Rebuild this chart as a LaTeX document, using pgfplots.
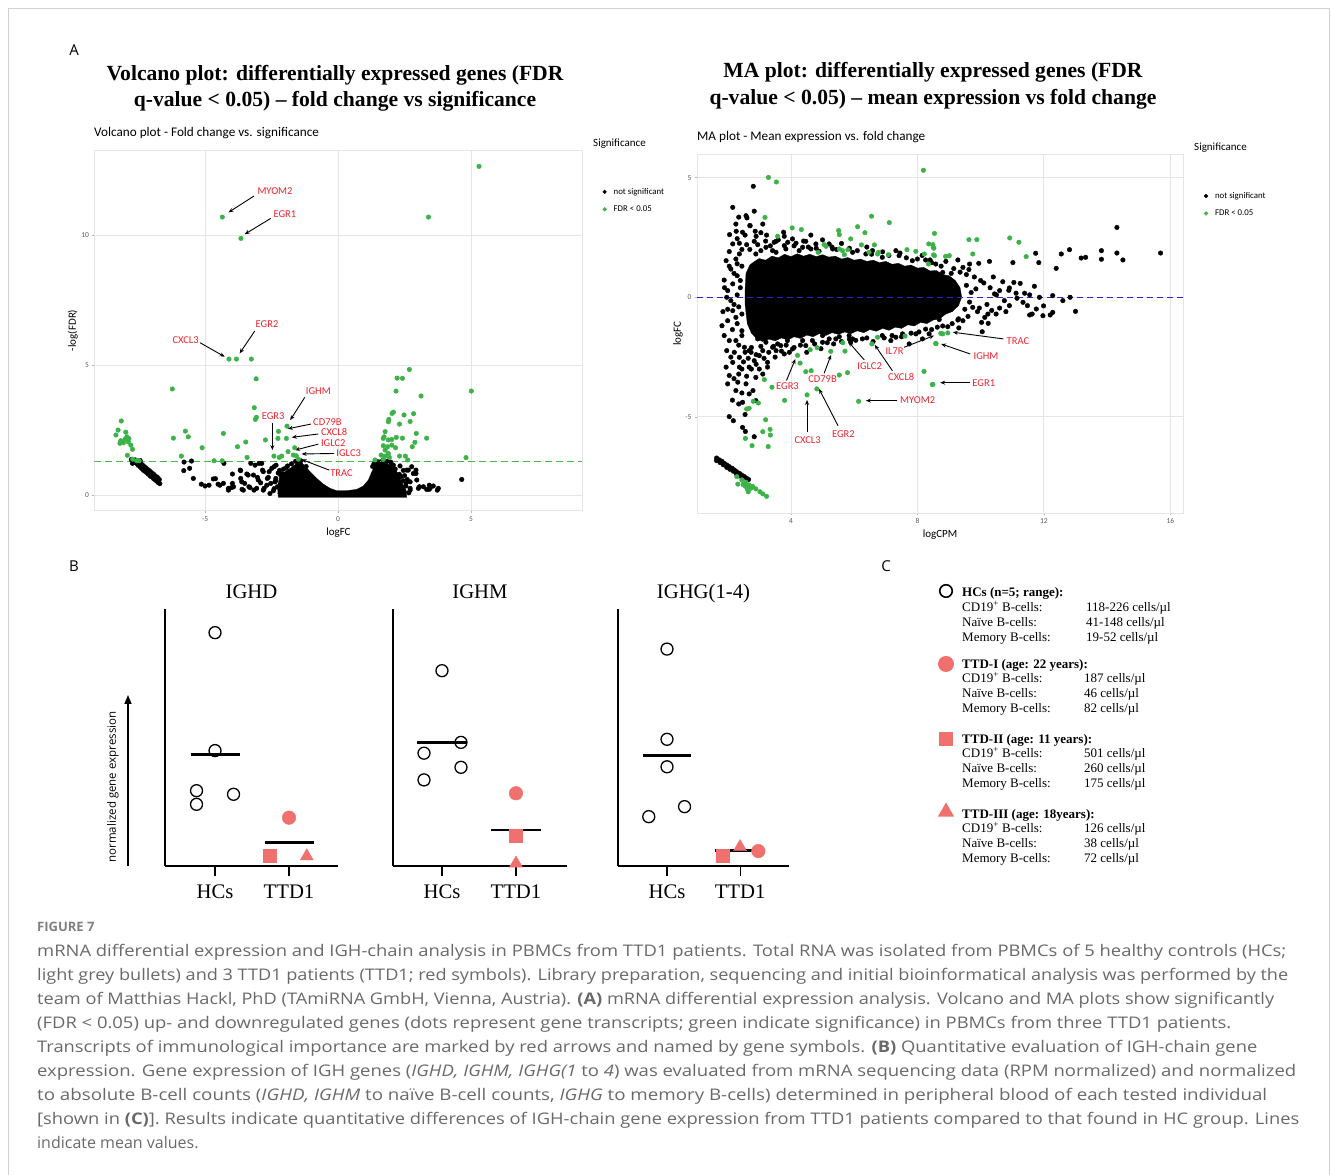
\documentclass[border=0pt]{standalone}
\usepackage{pgfplots}
\pgfplotsset{compat=1.18}
\usepackage{fontspec}
\usepackage{graphicx}
\usetikzlibrary{arrows.meta,shapes.geometric}
\setmainfont{Liberation Serif}
\newfontfamily\ggf{Carlito}
\newfontfamily\osf{Open Sans}
\definecolor{sig}{RGB}{60,178,72}
\definecolor{sigline}{RGB}{70,185,70}
\definecolor{lab}{RGB}{235,35,45}
\definecolor{ttd}{RGB}{240,112,110}
\definecolor{gridc}{RGB}{229,229,229}
\definecolor{capg}{RGB}{105,105,105}
\definecolor{navyd}{RGB}{40,40,200}
\newcommand{\fsz}[2]{\fontsize{#1}{#2}\selectfont}
\pgfplotsset{
  gg/.style={scale only axis, anchor=south west,
    axis line style={draw=gridc, line width=0.8pt},
    xmajorgrids, ymajorgrids,
    major grid style={draw=gridc, line width=0.8pt},
    tick style={draw=gray!60, line width=0.5pt},
    major tick length=2pt, tick align=outside,
    xtick pos=left, ytick pos=left,
    tick label style={font=\ggf\fsz{7.5}{8}, text=black!65},
    label style={font=\ggf\fsz{11}{12}},
    legend style={draw=none, fill=none, font=\ggf\fsz{8.8}{9}, row sep=6pt, anchor=west},
    legend cell align=left,
    legend image code/.code={\draw[##1, mark size=1.9pt] plot coordinates {(0pt,0pt)}; \path[draw=none, fill=none] (0pt,0pt) -- (7pt,0pt);},
  },
  pts/.style={only marks, mark=*, mark size=2.3pt},
  bax/.style={scale only axis, anchor=south west, height=257pt, ymin=0, ymax=100,
    axis x line*=bottom, axis y line*=left, axis line style={-, line width=1.1pt, black},
    xtick={1,2}, xticklabels={HCs,TTD1}, ytick=\empty,
    tick style={black, line width=1.1pt}, major tick length=10pt, tick align=outside,
    xticklabel style={font=\fsz{20.7}{23}, yshift=-5pt},
    clip=false,
    title style={font=\fsz{20.7}{23}, at={(axis description cs:0.5,1)}, anchor=base, yshift=4pt},
  },
  hc/.style={only marks, mark=o, mark size=6pt, line width=1.3pt, black},
  tc/.style={only marks, mark=*, mark size=6.8pt, draw=ttd, fill=ttd},
  ts/.style={only marks, mark=square*, mark size=6.3pt, draw=ttd, fill=ttd},
  tt/.style={only marks, mark=triangle*, mark size=7.5pt, draw=ttd, fill=ttd},
  mline/.style={black, line width=2.8pt},
}
\tikzset{lbl/.style={text=lab, font=\ggf\fsz{10.5}{12}, inner sep=1pt},
  arr/.style={-{Stealth[length=5pt,width=4pt]}, line width=0.9pt, black}}
\newcommand{\crow}[4]{\node[anchor=base west, inner sep=0] at (962pt,#1pt) {#2};
  \node[anchor=base west, inner sep=0] at (#3pt,#1pt) {#4};}
\begin{document}
\begin{tikzpicture}
\path[use as bounding box] (0pt,0pt) rectangle (1331pt,1175pt);
\draw[black!18, line width=0.8pt] (8pt,0pt) -- (8pt,1167pt) -- (1329pt,1167pt) -- (1329pt,0pt);

% ---------- panel labels and titles
\node[anchor=base, inner sep=0, font=\osf\fsz{15}{18}] at (74pt,1119.5pt) {A};
\node[anchor=base, inner sep=0, font=\osf\fsz{15}{18}] at (74pt,603.5pt) {B};
\node[anchor=base, inner sep=0, font=\osf\fsz{15}{18}] at (886pt,603.5pt) {C};
\node[anchor=base, inner sep=0, font=\bfseries\fsz{21.6}{26}] at (335pt,1094pt) {Volcano plot: differentially expressed genes (FDR};
\node[anchor=base, inner sep=0, font=\bfseries\fsz{21.6}{26}] at (335pt,1068pt) {q-value < 0.05) -- fold change vs significance};
\node[anchor=base, inner sep=0, font=\bfseries\fsz{21.6}{26}] at (933pt,1097pt) {MA plot: differentially expressed genes (FDR};
\node[anchor=base, inner sep=0, font=\bfseries\fsz{21.6}{26}] at (933pt,1070pt) {q-value < 0.05) -- mean expression vs fold change};
\node[anchor=base west, inner sep=0, font=\ggf\fsz{13.2}{15}] at (94pt,1038pt) {Volcano plot - Fold change vs. significance};
\node[anchor=base west, inner sep=0, font=\ggf\fsz{13.2}{15}] at (697pt,1034pt) {MA plot - Mean expression vs. fold change};
\node[anchor=base west, inner sep=0, font=\ggf\fsz{11}{12}] at (593pt,1028pt) {Significance};
\node[anchor=base west, inner sep=0, font=\ggf\fsz{11}{12}] at (1194pt,1024pt) {Significance};

% ---------- volcano plot
\begin{axis}[gg, at={(94.4pt,664.3pt)}, width=488.1pt, height=360.7pt,
  xmin=-9.16, xmax=9.19, ymin=-0.6, ymax=13.27,
  xtick={-5,0,5}, xticklabels={-5,0,5}, ytick={0,5,10}, yticklabels={0,5,10},
  xlabel={logFC}, ylabel={-log(FDR)},
  xlabel style={at={(axis description cs:0.5,-0.062)}, anchor=center},
  ylabel style={at={(axis description cs:-0.044,0.5)}, anchor=center},
  legend style={at={(axis description cs:1.035,0.86)}}]
\addplot[black, fill=black, line width=0.3pt, forget plot] coordinates {
(-2.24,-0.09) (-2.28,0.32) (-2.18,0.77) (-1.99,0.90) (-1.80,1.03) (-1.64,1.15) (-1.52,1.28) (-1.39,1.28)
(-1.28,1.15) (-1.05,0.90) (-0.80,0.64) (-0.55,0.42) (-0.30,0.26) (-0.05,0.17) (0.33,0.17) (0.70,0.22)
(0.95,0.35) (1.14,0.58) (1.27,0.90) (1.39,1.15) (1.52,1.35) (1.64,1.37) (1.83,1.22) (2.02,1.09)
(2.21,0.90) (2.33,0.64) (2.46,0.38) (2.58,0.13) (2.58,-0.09) (-2.24,-0.09)};
\addplot[pts, black] table {
x y
-7.77 1.37
-7.69 1.32
-7.64 1.26
-7.57 1.22
-7.52 1.15
-7.44 1.09
-7.39 1.03
-7.32 0.96
-7.27 0.92
-7.19 0.86
-7.14 0.81
-7.07 0.74
-7.02 0.71
-6.94 0.64
-6.89 0.60
-6.82 0.54
-6.77 0.49
-6.70 0.44
-7.62 1.35
-7.54 1.31
-7.47 1.24
-7.39 1.19
-7.32 1.13
-7.24 1.06
-7.17 1.00
-7.09 0.94
-7.02 0.87
-6.94 0.81
-6.87 0.74
-6.79 0.68
-6.72 0.60
-7.44 1.33
-7.73 1.22
-5.79 1.27
-5.51 1.31
-5.80 0.94
-5.58 1.03
-5.44 0.64
-5.14 0.42
-4.85 0.38
-4.51 0.42
-4.61 0.63
-4.29 1.22
-4.31 0.45
-4.12 0.19
-4.00 0.29
-3.97 0.45
-3.97 0.81
-3.66 0.94
-3.66 0.64
-3.51 0.45
-3.28 1.22
-3.61 0.22
-3.38 0.77
-3.18 0.77
-3.03 0.68
-2.97 1.22
-2.91 0.47
-2.84 0.96
-2.78 0.26
-2.66 0.64
-2.59 0.90
-2.53 0.45
-2.41 1.09
-2.34 0.64
-2.28 0.32
-2.16 0.77
-2.09 0.45
-3.16 0.19
-3.35 0.32
-4.69 0.62
-5.00 0.35
-4.44 0.38
-3.93 0.32
-3.68 0.96
-3.62 0.51
-3.43 0.81
-3.31 0.29
-3.12 1.15
-3.00 0.58
-2.87 1.22
-2.81 0.90
-2.68 0.38
-2.62 0.68
-2.49 1.03
-2.43 0.17
-2.37 0.51
-2.33 1.15
-2.18 0.06
-2.56 0.06
-2.81 0.19
-3.06 0.26
-3.56 0.19
-4.12 0.26
-2.25 0.85
-2.05 1.00
-1.90 1.12
-1.75 1.20
-1.60 1.30
-1.40 1.32
-1.20 1.10
-2.35 0.55
-2.40 0.25
-2.20 0.95
-2.10 0.82
-1.95 1.05
1.30 1.10
1.35 1.20
1.45 1.30
1.70 1.35
1.85 1.30
2.00 1.20
2.15 1.00
2.30 0.80
2.45 0.55
2.50 0.75
2.45 0.95
2.55 0.35
2.60 0.60
2.58 0.96
2.93 0.96
2.93 0.83
2.77 1.09
2.56 0.47
2.71 0.26
2.66 0.09
3.06 0.32
3.33 0.22
3.43 0.38
3.58 0.35
3.73 0.19
3.42 0.22
4.65 0.60
2.36 0.71
2.46 0.17
2.21 0.17
2.06 0.58
1.98 1.27
2.08 1.15
2.33 1.12
2.64 0.96
2.83 0.83
2.96 0.58
3.02 0.26
3.21 0.32
3.46 0.26
3.77 0.26
2.71 0.51
2.71 0.19
};
\addlegendentry{not significant}
\addplot[pts, sig] table {
x y
-4.35 10.69
-3.65 9.87
-4.10 5.23
-3.82 5.23
-3.26 5.23
-3.08 4.47
-6.23 4.08
-3.15 3.36
-3.07 2.99
-3.11 2.91
-1.92 2.65
-2.24 2.45
-2.26 2.18
-1.94 2.18
-2.73 2.12
-3.47 2.04
-3.78 1.86
-4.31 2.37
-5.74 2.46
-5.63 2.24
-6.19 2.19
-5.11 1.82
-1.63 1.82
-1.88 1.67
-2.41 1.50
-2.21 1.45
-2.12 1.50
-1.68 1.54
-1.57 1.51
-1.49 1.38
-3.42 1.45
-5.89 1.50
-4.66 1.32
-4.36 1.32
-8.15 2.85
-8.27 2.50
-8.35 2.31
-7.98 2.42
-7.94 2.24
-8.17 2.09
-8.07 2.01
-7.89 2.05
-7.79 1.92
-7.73 1.76
-7.92 1.53
-7.72 1.38
-8.01 2.15
-7.86 2.17
-8.20 1.99
-7.57 1.32
-7.48 1.32
5.30 12.64
3.40 10.69
2.68 4.83
2.22 4.50
2.42 4.49
2.18 4.00
3.12 3.81
5.01 4.00
2.08 3.19
2.03 3.14
2.48 3.08
2.84 3.13
1.91 2.91
1.89 2.82
2.31 2.73
2.71 2.83
1.77 2.44
1.73 2.24
1.70 2.18
2.94 2.37
3.33 2.19
2.19 2.22
2.42 2.19
1.89 2.12
2.02 2.14
1.70 1.90
1.86 1.86
2.02 1.92
2.16 1.82
2.89 2.03
2.79 1.86
1.77 1.73
1.89 1.60
1.62 1.54
1.77 1.50
2.31 1.50
2.53 1.50
2.62 1.35
1.39 1.35
1.70 1.37
4.81 1.44
1.93 1.45
};
\addlegendentry{FDR < 0.05}
\draw[draw={rgb,255:red,70;green,185;blue,70}, line width=1.4pt, dash pattern=on 7pt off 4pt] (axis cs:-9.16,1.301) -- (axis cs:9.19,1.301);
\node[lbl] at (axis cs:-2.37,11.67) {MYOM2};
\draw[arr] (axis cs:-3.16,11.5) -- (axis cs:-4.12,10.87);
\node[lbl] at (axis cs:-2.0,10.79) {EGR1};
\draw[arr] (axis cs:-2.53,10.64) -- (axis cs:-3.51,10.03);
\node[lbl] at (axis cs:-2.67,6.58) {EGR2};
\draw[arr] (axis cs:-3.13,6.31) -- (axis cs:-3.70,5.45);
\node[lbl] at (axis cs:-5.73,5.97) {CXCL3};
\draw[arr] (axis cs:-5.19,5.86) -- (axis cs:-4.26,5.32);
\node[lbl] at (axis cs:-0.74,4.0) {IGHM};
\draw[arr] (axis cs:-1.25,3.76) -- (axis cs:-1.80,2.88);
\node[lbl] at (axis cs:-2.44,3.03) {EGR3};
\draw[arr] (axis cs:-2.47,2.78) -- (axis cs:-2.47,1.73);
\node[lbl] at (axis cs:-0.40,2.81) {CD79B};
\draw[arr] (axis cs:-1.02,2.73) -- (axis cs:-1.89,2.55);
\node[lbl] at (axis cs:-0.15,2.41) {CXCL8};
\draw[arr] (axis cs:-0.74,2.35) -- (axis cs:-1.74,2.22);
\node[lbl] at (axis cs:-0.18,1.99) {IGLC2};
\draw[arr] (axis cs:-0.74,1.96) -- (axis cs:-1.62,1.73);
\node[lbl] at (axis cs:0.40,1.63) {IGLC3};
\draw[arr] (axis cs:-0.15,1.60) -- (axis cs:-1.37,1.58);
\node[lbl] at (axis cs:0.13,0.86) {TRAC};
\draw[arr] (axis cs:-0.33,0.96) -- (axis cs:-1.37,1.37);
\end{axis}

% ---------- MA plot
\begin{axis}[gg, at={(697pt,661.7pt)}, width=486pt, height=359.3pt,
  xmin=1.03, xmax=16.4, ymin=-9.03, ymax=5.99,
  xtick={4,8,12,16}, xticklabels={4,8,12,16}, ytick={-5,0,5}, yticklabels={-5,0,5},
  xlabel={logCPM}, ylabel={logFC},
  xlabel style={at={(axis description cs:0.5,-0.060)}, anchor=center},
  ylabel style={at={(axis description cs:-0.039,0.5)}, anchor=center},
  legend style={at={(axis description cs:1.037,0.859)}}]
\addplot[black, fill=black, line width=0.3pt, forget plot] coordinates {
(2.55,0.3) (2.58,1.0) (2.7,1.35) (2.85,1.5) (3.0,1.62) (3.2,1.55) (3.4,1.72) (3.6,1.65) (3.8,1.8)
(4.0,1.7) (4.2,1.82) (4.4,1.72) (4.6,1.8) (4.8,1.7) (5.0,1.78) (5.2,1.68) (5.4,1.72) (5.6,1.6)
(5.8,1.66) (6.0,1.55) (6.2,1.6) (6.4,1.5) (6.6,1.55) (6.8,1.45) (7.0,1.5) (7.2,1.38) (7.4,1.42)
(7.6,1.3) (7.8,1.35) (8.0,1.22) (8.2,1.25) (8.4,1.1) (8.6,1.12) (8.8,0.95) (9.0,0.9) (9.2,0.7)
(9.35,0.4) (9.4,0.0) (9.3,-0.35) (9.1,-0.6) (8.9,-0.7) (8.7,-0.9) (8.5,-0.95) (8.3,-1.1) (8.1,-1.05)
(7.9,-1.2) (7.7,-1.15) (7.5,-1.3) (7.3,-1.25) (7.1,-1.38) (6.9,-1.3) (6.7,-1.42) (6.5,-1.35)
(6.3,-1.48) (6.1,-1.4) (5.9,-1.52) (5.7,-1.45) (5.5,-1.55) (5.3,-1.48) (5.1,-1.6) (4.9,-1.52)
(4.7,-1.65) (4.5,-1.58) (4.3,-1.72) (4.1,-1.65) (3.9,-1.78) (3.7,-1.7) (3.5,-1.82) (3.3,-1.75)
(3.1,-1.85) (2.9,-1.7) (2.75,-1.5) (2.62,-1.1) (2.55,-0.3) (2.55,0.3)};
\addplot[pts, black] table {
x y
2.81 4.64
2.16 3.76
2.58 3.41
2.61 3.32
2.84 3.60
3.11 3.06
2.87 2.76
2.27 2.76
2.06 2.62
3.23 2.60
3.77 2.72
4.63 2.60
3.53 2.34
2.16 2.23
2.37 2.26
2.60 2.20
2.84 2.34
2.05 1.91
2.37 1.81
1.95 1.53
2.26 1.60
2.10 1.18
1.89 0.72
2.16 0.56
2.00 0.28
1.97 0.00
2.10 -0.14
2.30 0.90
2.40 0.40
2.35 -0.40
2.45 1.30
1.82 -1.19
2.00 -0.98
2.16 -0.56
2.26 -0.84
1.89 -1.60
2.05 -1.81
1.97 -2.23
2.26 -1.81
1.95 -2.92
2.16 -2.72
2.37 -2.51
2.05 -3.27
2.35 -3.21
2.00 -3.62
2.26 -3.90
2.32 -3.55
2.58 -3.62
2.68 -2.92
2.84 -2.65
3.00 -2.44
3.26 -2.72
3.11 -2.23
3.42 -2.09
3.68 -2.02
3.95 -2.30
3.89 -1.81
4.05 -2.16
2.47 -4.39
2.35 -4.46
2.05 -4.99
2.18 -5.16
2.47 -5.44
2.56 -5.61
2.84 -5.83
2.68 -4.04
2.89 -4.32
2.53 -2.09
2.74 -2.30
2.95 -1.74
3.26 -2.92
3.11 -3.21
2.89 -3.35
2.68 -2.23
2.37 -2.92
2.21 -2.30
2.45 -1.40
2.50 -2.70
3.47 2.30
3.79 2.55
4.05 2.44
4.37 2.09
4.79 2.23
5.21 2.23
4.47 2.34
3.05 1.95
3.42 1.95
3.84 2.02
4.26 1.95
2.47 2.72
2.26 3.06
2.71 2.99
4.47 -2.02
5.00 -1.88
5.42 -1.74
5.84 -1.60
5.89 -1.88
5.95 -1.74
5.00 -1.60
7.74 -1.95
8.16 -1.74
8.37 -1.53
7.32 -1.67
7.16 -1.81
3.53 -2.23
3.79 -2.37
2.89 1.81
3.21 2.09
3.53 1.88
3.79 2.16
4.16 2.26
4.63 2.02
4.89 1.92
5.32 2.02
5.95 1.88
6.37 1.81
6.89 1.67
7.42 1.74
7.84 1.53
8.26 1.56
8.58 1.39
7.32 1.95
6.58 1.95
4.37 -1.81
4.68 -1.81
5.21 -1.74
5.53 -1.65
6.26 -1.74
6.89 -1.60
7.53 -1.53
7.95 -1.53
8.26 -1.33
8.63 -1.25
3.58 -1.95
3.21 -1.88
2.70 2.00
2.95 2.20
3.20 2.35
3.35 2.15
3.60 2.40
3.90 2.30
4.10 2.15
4.40 2.35
4.55 2.10
4.80 2.05
5.00 2.40
5.30 2.10
5.45 2.00
5.60 2.25
5.85 2.05
6.10 1.95
6.40 2.10
6.55 1.80
6.90 1.90
7.10 1.75
7.45 1.85
7.65 1.65
8.00 1.60
8.15 1.75
8.45 1.45
8.75 1.30
8.90 1.50
9.15 1.20
9.35 1.05
9.55 0.95
9.80 0.85
10.00 0.70
2.75 -2.10
2.90 -2.40
3.05 -2.05
3.30 -2.30
3.45 -2.05
3.70 -2.25
3.85 -2.00
4.10 -2.10
4.30 -2.00
4.50 -2.30
4.75 -1.95
4.95 -2.15
5.15 -1.90
5.35 -1.95
5.60 -1.85
5.85 -1.75
6.05 -1.80
6.40 -1.70
6.60 -1.85
6.95 -1.70
7.20 -1.60
7.50 -1.65
7.80 -1.50
8.05 -1.45
8.45 -1.35
8.80 -1.20
9.10 -1.10
9.30 -0.90
9.60 -0.80
9.90 -0.60
9.55 0.50
9.70 0.20
9.65 -0.20
9.50 -0.50
9.85 0.35
2.45 2.00
2.30 1.40
2.20 1.00
2.40 0.70
2.30 0.10
2.20 -0.30
2.45 -0.70
2.30 -1.10
2.15 -1.35
2.45 -1.60
2.35 -2.00
2.55 -2.30
2.10 -2.50
2.45 -3.00
2.20 -3.40
2.60 -3.30
2.75 -3.00
2.90 -2.80
2.00 -0.50
1.90 0.40
2.05 1.30
1.85 -0.60
2.65 -2.55
3.15 -2.55
3.50 -2.50
3.00 -3.00
2.80 -3.90
2.45 -4.00
2.15 -4.30
2.55 -4.90
2.30 2.45
2.55 2.60
2.70 3.00
2.35 3.35
2.90 2.55
3.05 2.70
11.74 1.84
12.55 1.81
12.81 1.99
13.18 1.64
13.32 1.67
13.82 1.95
13.82 1.59
14.31 2.92
14.31 1.85
14.50 1.56
15.69 1.85
12.39 1.21
11.84 1.45
11.02 1.45
11.25 0.58
11.70 0.46
11.86 0.00
11.99 -0.36
11.97 -0.77
12.20 -0.74
12.28 -0.63
12.28 0.07
12.60 -0.14
12.83 0.00
13.00 -0.59
11.55 -0.74
11.63 -0.70
11.76 -0.49
11.48 -0.35
11.34 -0.21
11.15 -0.04
10.89 0.29
10.91 0.39
11.55 0.10
11.39 0.17
11.12 0.17
10.05 -1.44
10.03 -1.05
10.24 -1.09
8.96 -1.23
9.31 -1.28
9.44 -0.98
9.28 -0.95
10.49 -0.70
10.23 -0.70
10.13 -0.84
10.28 1.50
9.94 1.42
9.65 1.39
9.44 1.25
9.28 1.56
9.63 1.16
11.05 0.62
10.60 0.28
10.44 0.14
10.75 -0.14
10.91 -0.35
9.96 -0.45
9.75 -0.42
9.07 1.00
8.80 1.04
8.40 1.56
8.69 -0.93
8.49 -0.84
10.10 0.60
10.30 0.40
10.50 0.10
10.20 -0.30
10.60 -0.45
10.40 0.85
10.70 0.65
10.80 -0.60
10.35 -0.55
1.65 -6.72
1.74 -6.80
1.82 -6.86
1.89 -6.94
1.97 -7.01
2.05 -7.08
2.14 -7.15
2.21 -7.22
2.28 -7.29
2.37 -7.36
2.44 -7.43
2.53 -7.50
2.60 -7.57
2.66 -7.62
1.65 -6.83
1.76 -6.91
1.86 -7.00
1.97 -7.11
2.07 -7.19
2.18 -7.27
2.28 -7.39
2.39 -7.47
};
\addlegendentry{not significant}
\addplot[pts, sig] table {
x y
3.29 5.01
3.54 4.82
8.19 5.31
3.18 3.34
4.04 2.90
4.33 2.83
3.58 2.55
5.05 2.20
5.11 2.13
5.53 2.62
5.51 2.79
5.89 2.44
6.11 2.95
6.34 2.70
6.55 3.39
7.11 3.12
6.23 2.19
6.64 2.19
5.63 1.95
5.53 2.02
5.80 1.99
5.69 1.78
6.47 1.88
6.74 1.81
6.77 1.88
7.08 1.78
7.67 1.99
7.95 1.92
8.22 1.81
8.54 2.67
8.36 2.23
8.50 2.09
8.51 1.77
8.35 1.39
4.86 1.88
6.74 -1.67
7.61 -1.62
8.58 -1.93
8.74 -1.51
5.64 -1.90
6.56 -1.95
5.71 -2.25
5.26 -2.26
4.83 -2.11
4.61 -2.19
4.21 -2.43
4.29 -2.75
4.47 -3.11
4.64 -3.07
5.79 -3.15
5.53 -3.25
8.21 -3.10
8.47 -3.65
3.16 -3.44
3.40 -3.76
4.82 -3.83
4.51 -4.08
3.80 -4.31
6.14 -4.35
2.81 -4.35
2.97 -4.42
2.60 -4.67
2.68 -4.64
3.20 -5.12
3.11 -5.62
3.34 -5.52
3.35 -5.76
2.56 -5.90
2.77 -6.20
3.28 -6.24
2.29 -7.50
2.45 -7.64
2.58 -7.73
2.56 -7.90
2.32 -7.81
2.68 -7.85
2.65 -8.13
2.79 -7.91
2.89 -8.01
3.02 -8.13
3.11 -8.22
3.23 -8.32
2.74 -7.98
2.49 -7.83
2.62 -8.01
8.49 2.20
8.52 2.05
8.54 1.74
8.89 1.71
9.01 1.74
9.63 2.41
9.88 2.41
9.75 1.81
10.92 2.48
11.21 2.30
11.44 1.70
8.80 -1.53
8.96 -1.49
8.59 -1.94
8.49 -3.64
};
\addlegendentry{FDR < 0.05}
\draw[draw={rgb,255:red,40;green,40;blue,200}, line width=1.1pt, dash pattern=on 6pt off 4pt] (axis cs:1.03,0) -- (axis cs:16.4,0);
\node[lbl] at (axis cs:7.28,-2.26) {IL7R};
\draw[arr] (axis cs:7.58,-2.09) -- (axis cs:8.53,-1.60);
\node[lbl] at (axis cs:3.89,-3.72) {EGR3};
\draw[arr] (axis cs:3.86,-3.48) -- (axis cs:4.14,-2.58);
\node[lbl] at (axis cs:5.0,-3.44) {CD79B};
\draw[arr] (axis cs:5.05,-3.18) -- (axis cs:5.27,-2.41);
\node[lbl] at (axis cs:6.49,-2.87) {IGLC2};
\draw[arr] (axis cs:6.32,-2.62) -- (axis cs:5.82,-1.86);
\node[lbl] at (axis cs:7.49,-3.35) {CXCL8};
\draw[arr] (axis cs:7.21,-3.07) -- (axis cs:6.65,-1.99);
\node[lbl] at (axis cs:8.01,-4.32) {MYOM2};
\draw[arr] (axis cs:7.37,-4.32) -- (axis cs:6.37,-4.32);
\node[lbl] at (axis cs:4.53,-5.96) {CXCL3};
\draw[arr] (axis cs:4.51,-5.64) -- (axis cs:4.51,-4.29);
\node[lbl] at (axis cs:5.66,-5.73) {EGR2};
\draw[arr] (axis cs:5.49,-5.37) -- (axis cs:4.89,-3.83);
\node[lbl] at (axis cs:11.18,-1.84) {TRAC};
\draw[arr] (axis cs:10.72,-1.74) -- (axis cs:9.12,-1.46);
\node[lbl] at (axis cs:10.17,-2.44) {IGHM};
\draw[arr] (axis cs:9.67,-2.37) -- (axis cs:8.75,-1.95);
\node[lbl] at (axis cs:10.10,-3.57) {EGR1};
\draw[arr] (axis cs:9.65,-3.57) -- (axis cs:8.72,-3.57);
\end{axis}

% ---------- panel B
\draw[-{Triangle[length=9pt,width=7pt]}, line width=1.5pt] (128pt,309pt) -- (128pt,480pt);
\node[rotate=90, font=\osf\fsz{11.5}{13}] at (113pt,388pt) {normalized gene expression};

\begin{axis}[bax, at={(165pt,309pt)}, width=173pt, xmin=0.324, xmax=2.662, title={IGHD}]
\addplot[hc] coordinates {(1.0,90.8) (1.0,44.9) (0.75,29.3) (0.75,24.0) (1.25,27.9)};
\addplot[tc] coordinates {(2.0,18.8)};
\addplot[ts] coordinates {(1.74,3.9)};
\addplot[tt] coordinates {(2.24,3.8)};
\addplot[mline] coordinates {(0.673,43.5) (1.331,43.5)};
\addplot[mline] coordinates {(1.676,9.1) (2.338,9.1)};
\end{axis}
\begin{axis}[bax, at={(393pt,309pt)}, width=174pt, xmin=0.338, xmax=2.69, title={IGHM}]
\addplot[hc] coordinates {(1.0,76.0) (0.757,43.9) (1.257,48.1) (0.757,33.5) (1.257,38.4)};
\addplot[tc] coordinates {(2.0,28.3)};
\addplot[ts] coordinates {(2.0,11.7)};
\addplot[tt] coordinates {(2.0,1.0)};
\addplot[mline] coordinates {(0.667,48.1) (1.334,48.1)};
\addplot[mline] coordinates {(1.66,14.0) (2.34,14.0)};
\end{axis}
\begin{axis}[bax, at={(618pt,309pt)}, width=171pt, xmin=0.329, xmax=2.67, title={IGHG(1-4)}]
\addplot[hc] coordinates {(1.0,84.4) (1.0,49.3) (1.0,38.6) (0.75,19.2) (1.24,23.1)};
\addplot[ts] coordinates {(1.76,4.0)};
\addplot[tt] coordinates {(2.0,7.4)};
\addplot[tc] coordinates {(2.25,5.8)};
\addplot[mline] coordinates {(0.671,42.9) (1.326,42.9)};
\addplot[mline] coordinates {(1.66,6.0) (2.34,6.0)};
\end{axis}

% ---------- panel C
\node[circle, draw=black, line width=1.6pt, minimum size=12.5pt, inner sep=0pt] at (946pt,584pt) {};
\node[circle, fill=ttd, minimum size=16pt, inner sep=0pt] at (946pt,511pt) {};
\node[rectangle, fill=ttd, minimum size=14.5pt, inner sep=0pt] at (946pt,436pt) {};
\node[regular polygon, regular polygon sides=3, fill=ttd, minimum size=19pt, inner sep=0pt] at (946pt,363pt) {};
\begingroup
\fsz{13}{15}
\node[anchor=base west, inner sep=0] at (962pt,578.7pt) {\textbf{HCs (n=5; range):}};
\crow{563.7}{CD19\textsuperscript{+} B-cells:}{1086}{118-226 cells/µl}
\crow{548.7}{Naïve B-cells:}{1086}{41-148 cells/µl}
\crow{533.7}{Memory B-cells:}{1086}{19-52 cells/µl}
\node[anchor=base west, inner sep=0] at (962pt,506.7pt) {\textbf{TTD-I (age: 22 years):}};
\crow{492.7}{CD19\textsuperscript{+} B-cells:}{1084}{187 cells/µl}
\crow{477.7}{Naïve B-cells:}{1084}{46 cells/µl}
\crow{462.7}{Memory B-cells:}{1084}{82 cells/µl}
\node[anchor=base west, inner sep=0] at (962pt,431.7pt) {\textbf{TTD-II (age: 11 years):}};
\crow{417.7}{CD19\textsuperscript{+} B-cells:}{1084}{501 cells/µl}
\crow{402.7}{Naïve B-cells:}{1084}{260 cells/µl}
\crow{387.7}{Memory B-cells:}{1084}{175 cells/µl}
\node[anchor=base west, inner sep=0] at (962pt,356.7pt) {\textbf{TTD-III (age: 18years):}};
\crow{342.7}{CD19\textsuperscript{+} B-cells:}{1084}{126 cells/µl}
\crow{327.7}{Naïve B-cells:}{1084}{38 cells/µl}
\crow{312.7}{Memory B-cells:}{1084}{72 cells/µl}
\endgroup

% ---------- caption
\begin{scope}[every node/.style={anchor=base west, inner sep=0, text=capg, font=\osf\fsz{16}{24}}]
\node[font=\osf\bfseries\fsz{13}{15}, text=black!50] at (37pt,243pt) {FIGURE 7};
\node at (37pt,218pt) {\resizebox{1249pt}{\height}{mRNA differential expression and IGH-chain analysis in PBMCs from TTD1 patients. Total RNA was isolated from PBMCs of 5 healthy controls (HCs;}};
\node at (37pt,194pt) {\resizebox{1251pt}{\height}{light grey bullets) and 3 TTD1 patients (TTD1; red symbols). Library preparation, sequencing and initial bioinformatical analysis was performed by the}};
\node at (37pt,170pt) {\resizebox{1237pt}{\height}{team of Matthias Hackl, PhD (TAmiRNA GmbH, Vienna, Austria). \textbf{(A)} mRNA differential expression analysis. Volcano and MA plots show significantly}};
\node at (37pt,146pt) {\resizebox{1194pt}{\height}{(FDR < 0.05) up- and downregulated genes (dots represent gene transcripts; green indicate significance) in PBMCs from three TTD1 patients.}};
\node at (37pt,122pt) {\resizebox{1220pt}{\height}{Transcripts of immunological importance are marked by red arrows and named by gene symbols. \textbf{(B)} Quantitative evaluation of IGH-chain gene}};
\node at (37pt,98pt) {\resizebox{1259pt}{\height}{expression. Gene expression of IGH genes (\textit{IGHD, IGHM, IGHG(1} to \textit{4}) was evaluated from mRNA sequencing data (RPM normalized) and normalized}};
\node at (37pt,74pt) {\resizebox{1230pt}{\height}{to absolute B-cell counts (\textit{IGHD, IGHM} to naïve B-cell counts, \textit{IGHG} to memory B-cells) determined in peripheral blood of each tested individual}};
\node at (37pt,50pt) {\resizebox{1262pt}{\height}{[shown in \textbf{(C)}]. Results indicate quantitative differences of IGH-chain gene expression from TTD1 patients compared to that found in HC group. Lines}};
\node at (37pt,26pt) {indicate mean values.};
\end{scope}
\end{tikzpicture}
\end{document}
